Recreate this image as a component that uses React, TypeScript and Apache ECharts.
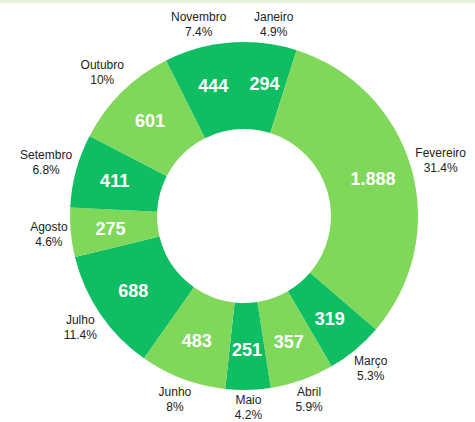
import React, { useEffect, useRef } from "react";
import * as echarts from "echarts";

const months = ["Janeiro", "Fevereiro", "Março", "Abril", "Maio", "Junho", "Julho", "Agosto", "Setembro", "Outubro", "Novembro"];
const values = [294, 1888, 319, 357, 251, 483, 688, 275, 411, 601, 444];
const palette = ["#0fbe63", "#80d85b"];

const fmtNum = (v: number) => v.toLocaleString("pt-BR");
const fmtPct = (p: number) => parseFloat(p.toFixed(1)).toString() + "%";

const CX = 244;
const CY = 216;
const R_IN = 87;
const R_OUT = 174;

const total = values.reduce((a, b) => a + b, 0);
const midDir = (i: number) => {
  let before = 0;
  for (let k = 0; k < i; k++) before += values[k];
  const f = (before + values[i] / 2) / total;
  const t = f * Math.PI * 2;
  return { ux: Math.sin(t), uy: -Math.cos(t) };
};

export default function App() {
  const ref = useRef<HTMLDivElement>(null);
  useEffect(() => {
    if (!ref.current) return;
    const chart = echarts.init(ref.current, null, { renderer: "svg" });
    const data = months.map((m, i) => ({
      name: m,
      value: values[i],
      itemStyle: { color: palette[i % 2] },
    }));
    chart.setOption({
      animation: false,
      backgroundColor: "#ffffff",
      graphic: [
        { type: "rect", left: 0, top: 0, shape: { width: 475, height: 3 }, style: { fill: "#e7f2de" } },
      ],
      series: [
        {
          type: "pie",
          center: [CX, CY],
          radius: [R_IN, R_OUT],
          startAngle: 90,
          clockwise: true,
          data,
          label: {
            position: "inside",
            color: "#ffffff",
            fontFamily: "Liberation Sans, Arial, sans-serif",
            fontWeight: "bold",
            fontSize: 18,
            formatter: (p: any) => fmtNum(p.value),
          },
          labelLayout: (p: any) => {
            const { ux, uy } = midDir(p.dataIndex);
            const r = 134;
            return { x: CX + ux * r, y: CY + uy * r, align: "center", verticalAlign: "middle" };
          },
          labelLine: { show: false },
          emphasis: { disabled: true },
        },
        {
          type: "pie",
          center: [CX, CY],
          radius: [R_IN, R_OUT],
          startAngle: 90,
          clockwise: true,
          silent: true,
          data: months.map((m, i) => ({ name: m, value: values[i], itemStyle: { color: "transparent" } })),
          label: {
            position: "inside",
            color: "#222222",
            fontFamily: "Liberation Sans, Arial, sans-serif",
            fontSize: 12,
            lineHeight: 15,
            align: "center",
            overflow: "none",
            formatter: (p: any) => `${p.name}\n${fmtPct(p.percent)}`,
          },
          labelLayout: (p: any) => {
            const { ux, uy } = midDir(p.dataIndex);
            const w = p.labelRect.width;
            const h = p.labelRect.height;
            const ext = Math.abs(ux) * w / 2 + Math.abs(uy) * h / 2;
            const r = R_OUT + 2 + ext;
            return { x: CX + ux * r, y: CY + uy * r, align: "center", verticalAlign: "middle" };
          },
          labelLine: { show: false },
          emphasis: { disabled: true },
        },
      ],
    });
    return () => chart.dispose();
  }, []);
  return <div ref={ref} style={{ position: "fixed", left: 0, top: 0, width: 475, height: 422 }} />;
}
